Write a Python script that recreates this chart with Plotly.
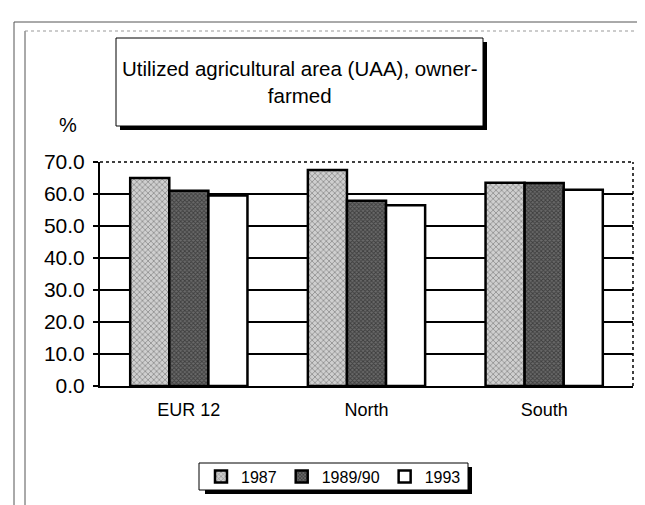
import plotly.graph_objects as go

categories = ["EUR 12", "North", "South"]
series_names = ["1987", "1989/90", "1993"]
v1987 = [65.0, 67.5, 63.5]
v1989 = [61.0, 57.9, 63.4]
v1993 = [59.5, 56.5, 61.3]
y_ticks = [0, 10, 20, 30, 40, 50, 60, 70]
y_tick_labels = ["0.0", "10.0", "20.0", "30.0", "40.0", "50.0", "60.0", "70.0"]

W, H = 645, 505
L, R, T, B = 92, 20, 154, 127
PW, PH = W - L - R, H - T - B

def px(x):
    return (x - L) / PW

def py(y):
    return (H - B - y) / PH

FONT = "Liberation Sans, Arial, sans-serif"

patterns = [
    dict(shape="x", fgcolor="#444444", bgcolor="#cfcfcf", size=4, solidity=0.35),
    dict(shape="x", fgcolor="#111111", bgcolor="#6a6a6a", size=3, solidity=0.5),
    dict(shape="", bgcolor="white"),
]

fig = go.Figure()
for name, vals, pat in zip(series_names, [v1987, v1989, v1993], patterns):
    fig.add_trace(go.Bar(
        x=categories, y=vals, name=name,
        marker=dict(color="white", line=dict(color="black", width=2.5), pattern=pat),
    ))

shapes = []
# plot area dotted frame (top & right)
shapes.append(dict(type="line", xref="paper", yref="paper", x0=0, x1=1, y0=1, y1=1,
                   line=dict(color="black", width=1.5, dash="dot"), layer="above"))
shapes.append(dict(type="line", xref="paper", yref="paper", x0=1, x1=1, y0=0, y1=1,
                   line=dict(color="black", width=1.5, dash="dot"), layer="above"))
# outer frames
shapes.append(dict(type="line", xref="paper", yref="paper", x0=px(6), x1=px(645), y0=py(14), y1=py(14),
                   line=dict(color="#555555", width=1)))
shapes.append(dict(type="line", xref="paper", yref="paper", x0=px(6), x1=px(6), y0=py(14), y1=py(505),
                   line=dict(color="#555555", width=1)))
shapes.append(dict(type="line", xref="paper", yref="paper", x0=px(17), x1=px(17), y0=py(23), y1=py(505),
                   line=dict(color="#555555", width=1)))
shapes.append(dict(type="line", xref="paper", yref="paper", x0=px(17), x1=px(645), y0=py(23), y1=py(23),
                   line=dict(color="#999999", width=1, dash="dot")))
# title box with shadow
shapes.append(dict(type="rect", xref="paper", yref="paper", x0=px(112), x1=px(479), y0=py(34), y1=py(122),
                   fillcolor="black", line=dict(width=0)))
shapes.append(dict(type="rect", xref="paper", yref="paper", x0=px(108), x1=px(475), y0=py(30), y1=py(118),
                   fillcolor="white", line=dict(color="black", width=1)))
# legend box shadow
shapes.append(dict(type="rect", xref="paper", yref="paper", x0=px(197), x1=px(464), y0=py(459), y1=py(486),
                   fillcolor="black", line=dict(width=0)))
shapes.append(dict(type="rect", xref="paper", yref="paper", x0=px(191), x1=px(460), y0=py(455), y1=py(482),
                   fillcolor="white", line=dict(color="black", width=1)))

fig.update_layout(
    width=W, height=H,
    margin=dict(l=L, r=R, t=T, b=B),
    paper_bgcolor="white", plot_bgcolor="white",
    barmode="group", bargap=0.34, bargroupgap=0,
    font=dict(family=FONT, color="black", size=16),
    showlegend=True,
    legend=dict(orientation="h", x=px(325.5), xanchor="center", y=py(468.5), yanchor="middle",
                bgcolor="rgba(0,0,0,0)", borderwidth=0, font=dict(size=16, family=FONT),
                itemwidth=30, traceorder="normal", tracegroupgap=0),
    xaxis=dict(showline=True, linecolor="black", linewidth=2, ticks="", showgrid=False,
               tickfont=dict(size=18), range=[-0.5, 2.5], ticklabelstandoff=6),
    yaxis=dict(range=[0, 70], tickvals=y_ticks, ticktext=y_tick_labels, showline=True,
               linecolor="black", linewidth=2, ticks="outside", ticklen=5, tickwidth=1.5,
               tickcolor="black", showgrid=True, gridcolor="black", gridwidth=1.5,
               zeroline=False, tickfont=dict(size=21), ticklabelstandoff=4),
    shapes=shapes,
    annotations=[
        dict(text="Utilized agricultural area (UAA), owner-<br>farmed", xref="paper", yref="paper",
             x=px(291.5), y=py(74), xanchor="center", yanchor="middle", showarrow=False,
             font=dict(size=20.5, family=FONT), align="center"),
        dict(text="%", xref="paper", yref="paper", x=px(60), y=py(117), xanchor="center",
             yanchor="middle", showarrow=False, font=dict(size=20, family=FONT)),
    ],
)

fig.write_html("out.html")
